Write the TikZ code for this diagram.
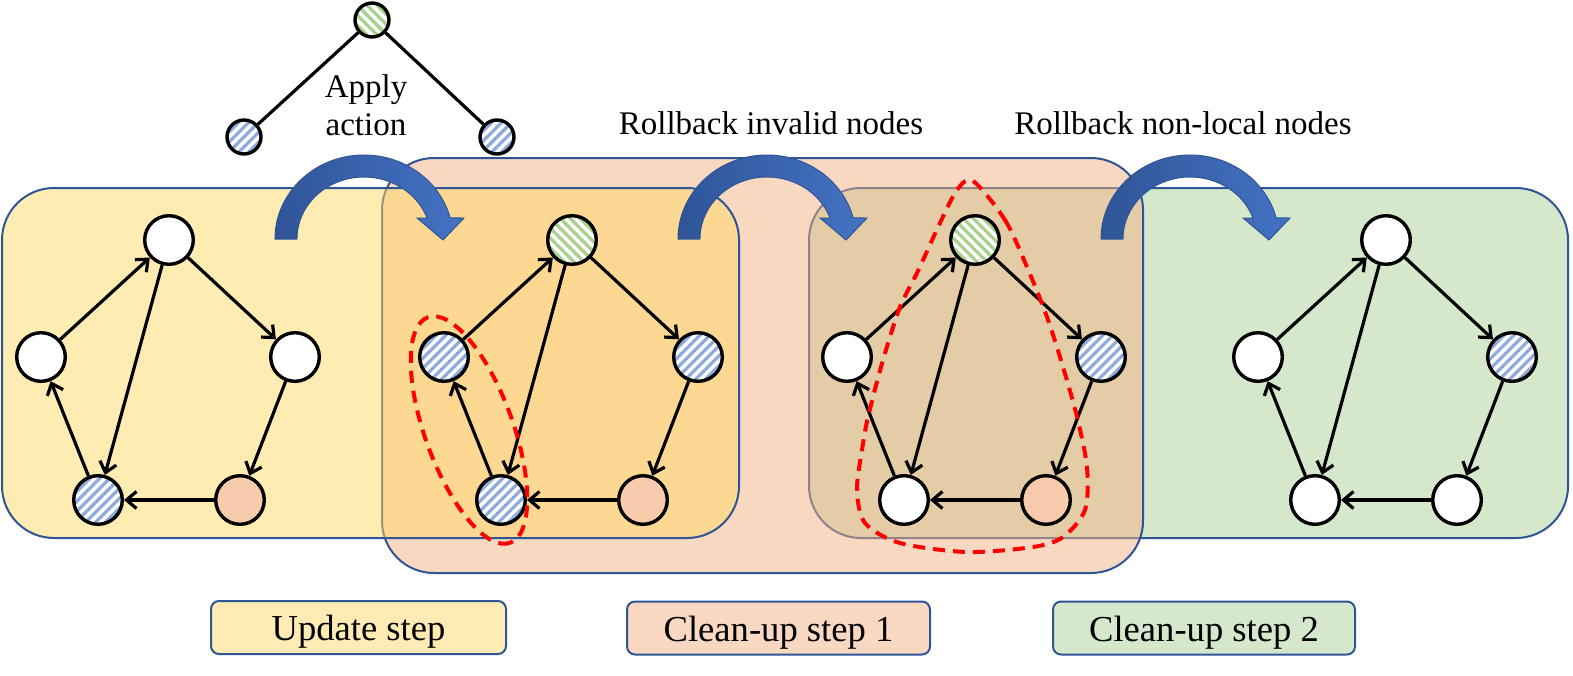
\documentclass[tikz,border=0pt]{standalone}
\usepackage{fontspec}
\setmainfont{Liberation Serif}
\usetikzlibrary{arrows.meta}
\definecolor{boxblue}{HTML}{2F5597}
\definecolor{yellowbase}{HTML}{FFD966}
\definecolor{peachbase}{HTML}{F4B183}
\definecolor{greenbox}{HTML}{D5E8CB}
\definecolor{labelyellow}{HTML}{FFEBB3}
\definecolor{labelpeach}{HTML}{F9D8C1}
\definecolor{labelgreen}{HTML}{D5E8CB}
\definecolor{nodepeach}{HTML}{F8CBAD}
\definecolor{hatchblue}{HTML}{8FAADC}
\definecolor{hatchgreen}{HTML}{A9D18E}
\definecolor{arrowdark}{HTML}{2F5597}
\definecolor{arrowlight}{HTML}{4472C4}
\tikzset{
  gnode/.style={circle, draw=black, line width=1.7pt, minimum size=24.3pt, inner sep=0pt},
  wnode/.style={gnode, fill=white},
  pnode/.style={gnode, fill=nodepeach},
  bnode/.style={gnode, fill=white, path picture={\foreach \k in {-6,...,6}{\draw[hatchblue, line width=1.6pt] ([shift={({\k*4.95pt-20pt},-20pt)}]path picture bounding box.center) -- ++(40pt,40pt);}}},
  hnode/.style={gnode, fill=white, path picture={\foreach \k in {-6,...,6}{\draw[hatchgreen, line width=1.6pt] ([shift={({\k*4.95pt-20pt},20pt)}]path picture bounding box.center) -- ++(40pt,-40pt);}}},
  edgearrow/.style={draw=black, line width=1.6pt, -{Straight Barb[length=5pt,width=8.5pt]}},
  treeline/.style={draw=black, line width=1.6pt},
  reddash/.style={draw=red, line width=2pt, dash pattern=on 6pt off 4pt},
  bigbox/.style={draw=boxblue, line width=1pt, rounded corners=26pt},
  labelbox/.style={draw=boxblue, line width=1pt, rounded corners=4pt, minimum height=26.5pt, inner sep=0pt, text height=14pt, text depth=1pt, font=\fontsize{18.3}{22}\selectfont},
  toptext/.style={font=\fontsize{16.5}{20}\selectfont, inner sep=0pt, anchor=base},
  arrowshape/.style={left color=arrowdark, right color=arrowlight, draw=arrowdark, line width=0.5pt}
}
\newcommand{\pentagraph}[7]{%
  \node[#3] (#1t) at ({#2+169},240) {};
  \node[#4] (#1l) at ({#2+41},357) {};
  \node[#5] (#1r) at ({#2+295},357) {};
  \node[#6] (#1bl) at ({#2+98},500) {};
  \node[#7] (#1br) at ({#2+240},500) {};
  \draw[edgearrow] (#1l) -- (#1t);
  \draw[edgearrow] (#1t) -- (#1r);
  \draw[edgearrow] (#1r) -- (#1br);
  \draw[edgearrow] (#1br) -- (#1bl);
  \draw[edgearrow] (#1bl) -- (#1l);
  \draw[edgearrow] (#1t) -- (#1bl);
}
\newcommand{\bluecurve}[1]{%
  \path[arrowshape] ({#1+275},239) arc[start angle=180, end angle=345.5, x radius=89, y radius=84]
    -- ({#1+464},218) -- ({#1+443},240) -- ({#1+417},218) -- ({#1+427},218)
    arc[start angle=340.2, end angle=180, x radius=67, y radius=62] -- cycle;
}
\begin{document}
\begin{tikzpicture}[x=0.5pt,y=-0.5pt]
\useasboundingbox (0,0) rectangle (1573,675);
% stage boxes
\path[bigbox, fill=greenbox] (809,188) rectangle (1568,538);
\path[bigbox, fill=peachbase, fill opacity=0.5] (382,158) rectangle (1143,573);
\path[bigbox, fill=yellowbase, fill opacity=0.5] (2,188) rectangle (739,538);
% graphs
\pentagraph{ga}{0}{wnode}{wnode}{wnode}{bnode}{pnode}
\pentagraph{gb}{403}{hnode}{bnode}{bnode}{bnode}{pnode}
\pentagraph{gc}{806}{hnode}{wnode}{bnode}{wnode}{pnode}
\pentagraph{gd}{1217}{wnode}{wnode}{bnode}{wnode}{wnode}
% red dashed groups
\draw[reddash, rotate around={-70:(469,430)}] (469,430) ellipse [x radius=120, y radius=44];
\draw[reddash] plot[smooth cycle] coordinates {(973,181) (1005,220) (1027,267) (1047,317) (1063,367) (1077,417) (1087,467) (1085,510) (1063,537) (1033,547) (967,552) (900,543) (865,523) (857,490) (862,450) (868,417) (883,360) (900,307) (917,273) (940,223) (957,190)};
% curved arrows
\bluecurve{0}
\bluecurve{403}
\bluecurve{826}
% action tree
\node[hnode, minimum size=17pt] (root) at (372,20) {};
\node[bnode, minimum size=17pt] (leftchild) at (244,137) {};
\node[bnode, minimum size=17pt] (rightchild) at (497,137) {};
\draw[treeline] (root) -- (leftchild);
\draw[treeline] (root) -- (rightchild);
% texts
\node[toptext] (apply) at (366,97) {Apply};
\node[toptext] (action) at (366,135) {action};
\node[toptext] (rbinvalid) at (771,134) {Rollback invalid nodes};
\node[toptext] (rbnonlocal) at (1183,134) {Rollback non-local nodes};
% stage labels
\node[labelbox, fill=labelyellow, minimum width=147.5pt] (lupdate) at (358.5,627.5) {Update step};
\node[labelbox, fill=labelpeach, minimum width=151.5pt] (lclean1) at (778.5,628) {Clean-up step 1};
\node[labelbox, fill=labelgreen, minimum width=151pt] (lclean2) at (1204,628) {Clean-up step 2};
\end{tikzpicture}
\end{document}
